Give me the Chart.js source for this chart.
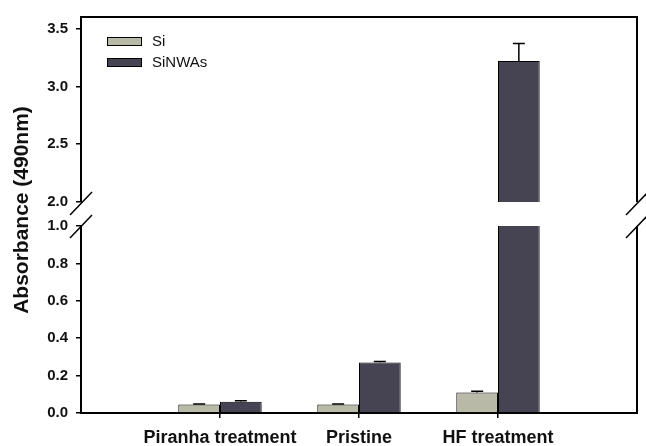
<!DOCTYPE html>
<html>
<head>
<meta charset="utf-8">
<script src="https://cdn.jsdelivr.net/npm/chart.js@4/dist/chart.umd.min.js"></script>
<style>
  html, body { margin: 0; padding: 0; background: #ffffff; }
  #wrap { position: relative; width: 646px; height: 446px; }
  #wrap canvas { position: absolute; left: 0; top: 0; }
</style>
</head>
<body>
<div id="wrap">
  <canvas id="upper" width="646" height="446"></canvas>
  <canvas id="lower" width="646" height="446"></canvas>
</div>
<script>
// Absorbance at 490 nm for each surface treatment
const categories = ['Piranha treatment', 'Pristine', 'HF treatment'];
const categoryPos = [1, 2, 3];
const seriesNames = ['Si', 'SiNWAs'];
const siValues = [0.045, 0.045, 0.11];
const siErrors = [0.003, 0.003, 0.006];
const nwValues = [0.06, 0.27, 3.22];
const nwErrors = [0.006, 0.006, 0.15];
const lowerTicks = [0.0, 0.2, 0.4, 0.6, 0.8, 1.0];
const upperTicks = [2.0, 2.5, 3.0, 3.5];
const axisTitle = 'Absorbance (490nm)';

// frame geometry (canvas pixels)
const W = 646, H = 446;
const LEFT = 81, RIGHT = 637;
const UP_TOP = 15, UP_BOTTOM = 202;
const LOW_TOP = 226, LOW_BOTTOM = 413;

const FONT = "'Liberation Sans', Arial, Helvetica, sans-serif";
Chart.defaults.font.family = FONT;
Chart.defaults.color = '#111';

const siColor = '#b8b9a7';
const nwColor = '#464452';

function points(vals) {
  return categoryPos.map((x, i) => ({ x: x, y: vals[i] }));
}
function makeDatasets() {
  return [
    { label: seriesNames[0], data: points(siValues), errors: siErrors,
      backgroundColor: siColor, borderColor: '#000', borderWidth: 1, clip: 0,
      categoryPercentage: 0.6, barPercentage: 1.0 },
    { label: seriesNames[1], data: points(nwValues), errors: nwErrors,
      backgroundColor: nwColor, borderColor: '#000', borderWidth: 1, clip: 0,
      categoryPercentage: 0.6, barPercentage: 1.0 }
  ];
}

// error bars: stem from the bar top up to value + error, with a short cap
const errorBars = {
  id: 'errorBars',
  afterDatasetsDraw(chart) {
    const { ctx, chartArea, scales } = chart;
    const y = scales.y;
    ctx.save();
    ctx.beginPath();
    ctx.rect(chartArea.left, chartArea.top, chartArea.right - chartArea.left, chartArea.bottom - chartArea.top);
    ctx.clip();
    ctx.strokeStyle = '#000';
    ctx.lineWidth = 1.5;
    chart.data.datasets.forEach((ds, di) => {
      const meta = chart.getDatasetMeta(di);
      meta.data.forEach((bar, i) => {
        const v = ds.data[i].y;
        const e = ds.errors[i];
        const top = y.getPixelForValue(v + e);
        const start = y.getPixelForValue(v);
        ctx.beginPath();
        ctx.moveTo(bar.x, start);
        ctx.lineTo(bar.x, top);
        ctx.moveTo(bar.x - 6, top);
        ctx.lineTo(bar.x + 6, top);
        ctx.stroke();
      });
    });
    ctx.restore();
  }
};

function breakMark(ctx, x, y) {
  ctx.beginPath();
  ctx.moveTo(x - 11, y + 12);
  ctx.lineTo(x + 11, y - 11);
  ctx.stroke();
}

// frame lines, axis breaks and legend of the upper segment
const upperDecor = {
  id: 'upperDecor',
  afterDraw(chart) {
    const { ctx, chartArea: a } = chart;
    ctx.save();
    ctx.strokeStyle = '#000';
    ctx.lineWidth = 2;
    ctx.beginPath();
    ctx.moveTo(a.left - 1, a.top);
    ctx.lineTo(a.right, a.top);
    ctx.moveTo(a.right, a.top - 1);
    ctx.lineTo(a.right, a.bottom);
    ctx.stroke();
    ctx.lineWidth = 1.5;
    breakMark(ctx, a.left, a.bottom + 1);
    breakMark(ctx, a.right, a.bottom + 1);

    // legend
    ctx.font = '15px ' + FONT;
    ctx.textBaseline = 'middle';
    ctx.textAlign = 'left';
    chart.data.datasets.forEach((ds, i) => {
      const bx = 107, by = 37 + i * 21;
      ctx.fillStyle = ds.backgroundColor;
      ctx.fillRect(bx, by, 35, 9);
      ctx.lineWidth = 1;
      ctx.strokeStyle = '#000';
      ctx.strokeRect(bx + 0.5, by + 0.5, 34, 8);
      ctx.fillStyle = '#111';
      ctx.fillText(ds.label, 152, by + 5);
    });
    ctx.restore();
  }
};

// right frame line, axis breaks and the shared y-axis title
const lowerDecor = {
  id: 'lowerDecor',
  afterDraw(chart) {
    const { ctx, chartArea: a } = chart;
    ctx.save();
    ctx.strokeStyle = '#000';
    ctx.lineWidth = 2;
    ctx.beginPath();
    ctx.moveTo(a.right, a.top);
    ctx.lineTo(a.right, a.bottom + 1);
    ctx.stroke();
    ctx.lineWidth = 1.5;
    breakMark(ctx, a.left, a.top);
    breakMark(ctx, a.right, a.top);

    ctx.translate(22, 210);
    ctx.rotate(-Math.PI / 2);
    ctx.font = 'bold 21px ' + FONT;
    ctx.fillStyle = '#111';
    ctx.textAlign = 'center';
    ctx.textBaseline = 'middle';
    ctx.fillText(axisTitle, 0, 0);
    ctx.restore();
  }
};

function yScale(min, max, tickValues) {
  return {
    type: 'linear',
    min: min,
    max: max,
    afterBuildTicks(s) { s.ticks = tickValues.map(v => ({ value: v })); },
    afterFit(s) { s.width = LEFT; },
    border: { display: true, color: '#000', width: 2 },
    grid: { drawOnChartArea: false, drawTicks: true, tickLength: 5, color: '#000', tickColor: '#000', lineWidth: 1.5 },
    ticks: {
      padding: 8,
      font: { size: 15, weight: 'bold' },
      color: '#111',
      callback: v => Number(v).toFixed(1)
    }
  };
}

function xScale(show) {
  const s = {
    type: 'linear',
    min: 0,
    max: 4,
    offset: false,
    display: show,
    afterBuildTicks(sc) { sc.ticks = categoryPos.map(v => ({ value: v })); },
    border: { display: true, color: '#000', width: 2 },
    grid: { offset: false, drawOnChartArea: false, drawTicks: true, tickLength: 5, color: '#000', tickColor: '#000', lineWidth: 1.5 },
    ticks: {
      padding: 9,
      maxRotation: 0,
      autoSkip: false,
      font: { size: 18, weight: 'bold' },
      color: '#111',
      callback: v => categories[categoryPos.indexOf(v)]
    }
  };
  if (show) s.afterFit = sc => { sc.height = H - LOW_BOTTOM; };
  return s;
}

const common = {
  responsive: false,
  maintainAspectRatio: false,
  devicePixelRatio: 1,
  animation: false,
  plugins: { legend: { display: false }, tooltip: { enabled: false } }
};

// upper segment: 2.0 – 3.6
new Chart(document.getElementById('upper'), {
  type: 'bar',
  data: { datasets: makeDatasets() },
  options: Object.assign({}, common, {
    layout: { padding: { left: 0, right: W - RIGHT, top: UP_TOP, bottom: H - UP_BOTTOM } },
    scales: { x: xScale(false), y: yScale(2.0, 3.6, upperTicks) }
  }),
  plugins: [errorBars, upperDecor]
});

// lower segment: 0 – 1.0
new Chart(document.getElementById('lower'), {
  type: 'bar',
  data: { datasets: makeDatasets() },
  options: Object.assign({}, common, {
    layout: { padding: { left: 0, right: W - RIGHT, top: LOW_TOP, bottom: 0 } },
    scales: { x: xScale(true), y: yScale(0, 1.0, lowerTicks) }
  }),
  plugins: [errorBars, lowerDecor]
});
</script>
</body>
</html>
